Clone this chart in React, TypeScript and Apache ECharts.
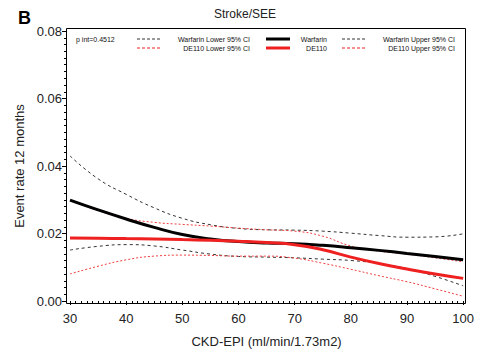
import React, { useEffect, useRef } from "react";
import * as echarts from "echarts";

const ckd = [30, 35, 40, 45, 50, 55, 60, 65, 70, 75, 80, 85, 90, 95, 100];
const warfarin = [0.0299, 0.027, 0.0243, 0.0218, 0.0197, 0.0184, 0.0176, 0.0172, 0.017, 0.0165, 0.0158, 0.015, 0.0141, 0.0132, 0.0122];
const de110 = [0.0187, 0.0186, 0.0185, 0.0184, 0.0182, 0.018, 0.0177, 0.0173, 0.0167, 0.0152, 0.013, 0.0111, 0.0095, 0.008, 0.0067];
const warfarinUpper = [0.043, 0.0362, 0.0316, 0.0276, 0.0245, 0.0226, 0.0215, 0.0211, 0.021, 0.0207, 0.0201, 0.0194, 0.0189, 0.019, 0.0199];
const warfarinLower = [0.0151, 0.0162, 0.0167, 0.0163, 0.0151, 0.0139, 0.0132, 0.013, 0.0128, 0.0124, 0.012, 0.0111, 0.0096, 0.0073, 0.0045];
const de110Upper = [0.0299, 0.0268, 0.0245, 0.0233, 0.0227, 0.0222, 0.0216, 0.0211, 0.0207, 0.0192, 0.0163, 0.0148, 0.0139, 0.0128, 0.0116];
const de110Lower = [0.008, 0.0103, 0.0122, 0.0133, 0.0136, 0.0135, 0.0133, 0.0133, 0.0127, 0.0112, 0.0094, 0.0075, 0.0057, 0.0036, 0.0014];

const RED = "#ee2020";
const FONT = "Liberation Sans, Arial, sans-serif";

const pairs = (ys: number[]) => ckd.map((x, i) => [x, ys[i]]);

export default function App() {
  const ref = useRef<HTMLDivElement>(null);
  useEffect(() => {
    if (!ref.current) return;
    const chart = echarts.init(ref.current, undefined, { renderer: "svg" });
    const dashed = (name: string, ys: number[], color: string, dash: number[]) => ({
      name,
      type: "line",
      data: pairs(ys),
      smooth: 0.5,
      symbol: "none",
      lineStyle: { color, width: 1, type: dash },
      z: 2,
    });
    const solid = (name: string, ys: number[], color: string) => ({
      name,
      type: "line",
      data: pairs(ys),
      smooth: 0.5,
      symbol: "none",
      lineStyle: { color, width: 3 },
      z: 3,
    });
    const legendText = (text: string, x: number, y: number, align: string) => ({
      type: "text",
      x,
      y,
      style: { text, fill: "#111", font: `7px ${FONT}`, textAlign: align, textVerticalAlign: "middle" },
    });
    const legendLine = (x1: number, x2: number, y: number, color: string, width: number, dash?: number[]) => ({
      type: "line",
      shape: { x1, y1: y, x2, y2: y },
      style: { stroke: color, lineWidth: width, lineDash: dash },
    });
    chart.setOption({
      animation: false,
      backgroundColor: "#fff",
      grid: { left: 70, right: 12, top: 31, bottom: 51 },
      xAxis: {
        type: "value",
        min: 30,
        max: 100,
        interval: 10,
        offset: 2,
        name: "CKD-EPI (ml/min/1.73m2)",
        nameLocation: "middle",
        nameGap: 32,
        nameTextStyle: { fontFamily: FONT, fontSize: 13, color: "#222" },
        axisLine: { show: false },
        axisTick: { show: true, length: 4, lineStyle: { color: "#000" } },
        minorTick: { show: true, splitNumber: 10, length: 2, lineStyle: { color: "#000" } },
        axisLabel: { fontFamily: FONT, fontSize: 13, color: "#222", margin: 9 },
        splitLine: { show: false },
      },
      yAxis: {
        type: "value",
        min: 0,
        max: 0.08,
        interval: 0.02,
        offset: 4,
        name: "Event rate 12 months",
        nameLocation: "middle",
        nameGap: 38,
        nameTextStyle: { fontFamily: FONT, fontSize: 13, color: "#222" },
        axisLine: { show: false },
        axisTick: { show: true, length: 4, lineStyle: { color: "#000" } },
        minorTick: { show: true, splitNumber: 10, length: 2, lineStyle: { color: "#000" } },
        axisLabel: { fontFamily: FONT, fontSize: 13, color: "#222", margin: 4, formatter: (v: number) => v.toFixed(2) },
        splitLine: { show: false },
      },
      graphic: [
        {
          type: "rect",
          shape: { x: 66.5, y: 28.5, width: 399, height: 275 },
          style: { fill: "none", stroke: "#000", lineWidth: 1 },
          silent: true,
          z: 10,
        },
        { type: "text", x: 18, y: 18, style: { text: "B", font: `bold 18px ${FONT}`, fill: "#000", textVerticalAlign: "middle" } },
        { type: "text", x: 245, y: 14, style: { text: "Stroke/SEE", font: `12px ${FONT}`, fill: "#222", textAlign: "center", textVerticalAlign: "middle" } },
        legendText("p int=0.4512", 76, 39, "left"),
        legendLine(137, 162, 39, "#333", 1, [3, 2]),
        legendText("Warfarin Lower 95% CI", 250, 39, "right"),
        legendLine(137, 162, 48, RED, 1, [3, 2]),
        legendText("DE110 Lower 95% CI", 250, 48, "right"),
        legendLine(266, 290, 39, "#000", 3),
        legendText("Warfarin", 327, 39, "right"),
        legendLine(266, 290, 48, RED, 3),
        legendText("DE110", 327, 48, "right"),
        legendLine(342, 365, 39, "#333", 1, [3, 2]),
        legendText("Warfarin Upper 95% CI", 455, 39, "right"),
        legendLine(342, 365, 48, RED, 1, [3, 2]),
        legendText("DE110 Upper 95% CI", 455, 48, "right"),
      ],
      series: [
        dashed("Warfarin Lower 95% CI", warfarinLower, "#333", [3, 3]),
        dashed("Warfarin Upper 95% CI", warfarinUpper, "#333", [3, 3]),
        dashed("DE110 Lower 95% CI", de110Lower, "#f04040", [2, 2]),
        dashed("DE110 Upper 95% CI", de110Upper, "#f04040", [2, 2]),
        solid("Warfarin", warfarin, "#000"),
        solid("DE110", de110, RED),
      ],
    });
    return () => chart.dispose();
  }, []);
  return <div ref={ref} style={{ position: "absolute", left: 0, top: 0, width: 477, height: 353 }} />;
}
